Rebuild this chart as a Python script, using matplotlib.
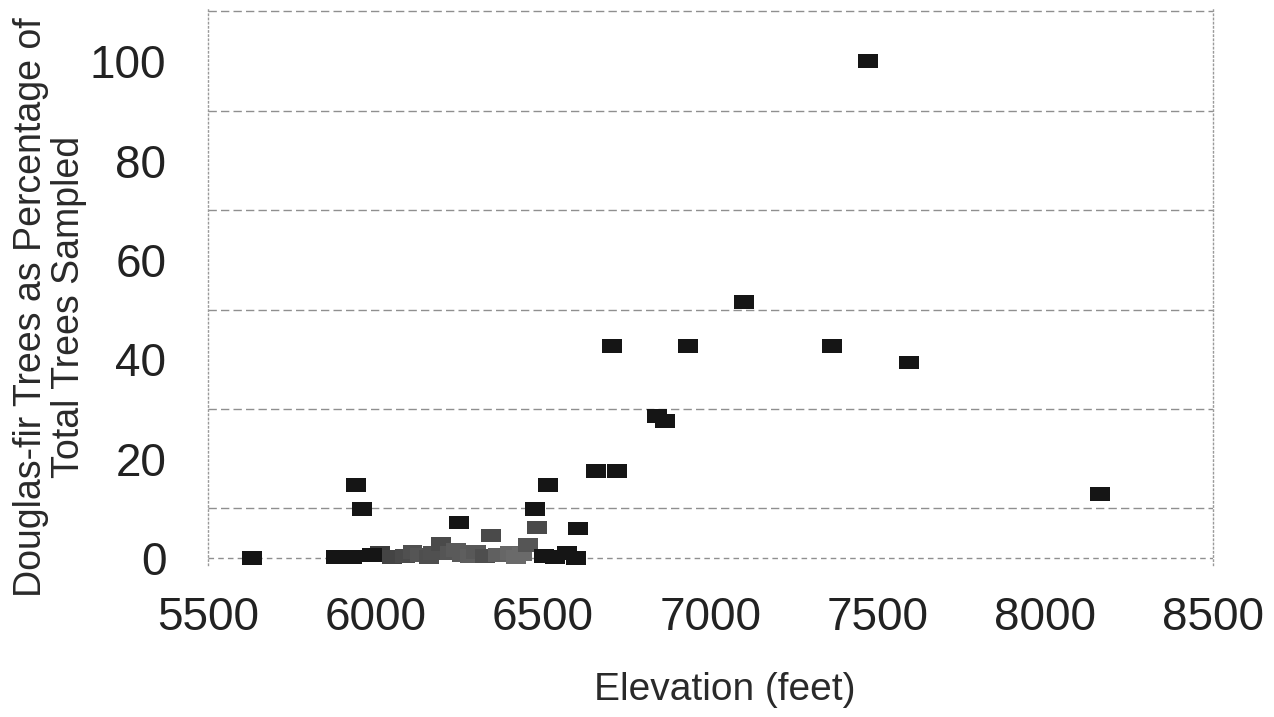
import matplotlib
matplotlib.use("Agg")
import matplotlib.pyplot as plt
import numpy as np

plt.rcParams["font.family"] = ["Liberation Sans", "DejaVu Sans"]

# elevation (feet) and Douglas-fir share (%)
elev_dark = [7470, 7100, 6706, 6933, 7363, 7593, 6840, 6864, 6658, 6721,
             6515, 5942, 5960, 6476, 6249, 6604, 8163,
             5631, 5882, 5930, 5990, 6503, 6536, 6572, 6599]
pct_dark = [100, 51.5, 42.7, 42.7, 42.7, 39.4, 28.6, 27.6, 17.5, 17.5,
            14.7, 14.7, 9.9, 9.9, 7.2, 6.0, 12.9,
            0, 0.2, 0.2, 0.6, 0.4, 0.2, 1.0, 0]

elev_gray = [6013, 6050, 6088, 6110, 6133, 6160, 6172, 6196, 6222, 6240,
             6258, 6282, 6300, 6327, 6345, 6366, 6401, 6420, 6437, 6455,
             6482]
pct_gray = [1.0, 0.2, 0.4, 1.2, 0.6, 0.2, 1.0, 2.8, 1.0, 1.6,
            0.6, 0.4, 1.2, 0.4, 4.6, 0.6, 1.0, 0.2, 0.8, 2.6,
            6.2]
gray_tone = ["#3c3c3c", "#444444", "#4a4a4a", "#505050", "#555555", "#4e4e4e",
             "#505050", "#4a4a4a", "#555555", "#5a5a5a", "#5a5a5a", "#5e5e5e",
             "#585858", "#4e4e4e", "#4a4a4a", "#606060", "#666666", "#6a6a6a",
             "#6a6a6a", "#555555", "#4a4a4a"]

x_ticks = [5500, 6000, 6500, 7000, 7500, 8000, 8500]
y_ticks = [0, 20, 40, 60, 80, 100]
grid_levels = [10, 30, 50, 70, 90, 110]

W, H = 1274, 717
fig = plt.figure(figsize=(W / 100, H / 100), dpi=100)
ax = fig.add_axes([208 / W, (H - 565) / H, (1213 - 208) / W, (565 - 8) / H])

box = [(-1, -0.68), (1, -0.68), (1, 0.68), (-1, 0.68), (-1, -0.68)]

ax.scatter(elev_gray, pct_gray, marker=box, s=200, c=gray_tone,
           edgecolors="none", zorder=3)
ax.scatter(elev_dark, pct_dark, marker=box, s=200, c="#151515",
           edgecolors="none", zorder=4)

ax.set_xlim(5500, 8500)
ax.set_ylim(-1.4, 110.7)
ax.set_xticks(x_ticks)
ax.set_yticks(y_ticks)
ax.set_yticks(grid_levels, minor=True)
ax.grid(axis="y", which="minor", color="#606060", linestyle=(0, (6, 3)),
        linewidth=1.0, alpha=0.7)
ax.axhline(0, color="#606060", linestyle=(0, (4, 3)), linewidth=1.0,
           alpha=0.7, zorder=1)

for side in ["top", "bottom"]:
    ax.spines[side].set_visible(False)
for side in ["left", "right"]:
    ax.spines[side].set_color("#9a9a9a")
    ax.spines[side].set_linestyle((0, (1, 2)))
    ax.spines[side].set_linewidth(1.0)

ax.tick_params(axis="both", which="both", length=0, labelsize=33,
               labelcolor="#222222")
ax.tick_params(axis="y", pad=30)
ax.tick_params(axis="x", pad=22)
for lbl in ax.get_xticklabels():
    lbl.set_x(lbl.get_position()[0])

fig.text(50 / W, 1 - 307 / H,
         "Douglas-fir Trees as Percentage of\nTotal Trees Sampled",
         rotation=90, ha="center", va="center", fontsize=27,
         color="#2a2a2a", multialignment="center", linespacing=1.1)
fig.text(725 / W, 1 - 690 / H, "Elevation (feet)", ha="center", va="center",
         fontsize=28, color="#2a2a2a")

fig.savefig("out.png", dpi=100)
